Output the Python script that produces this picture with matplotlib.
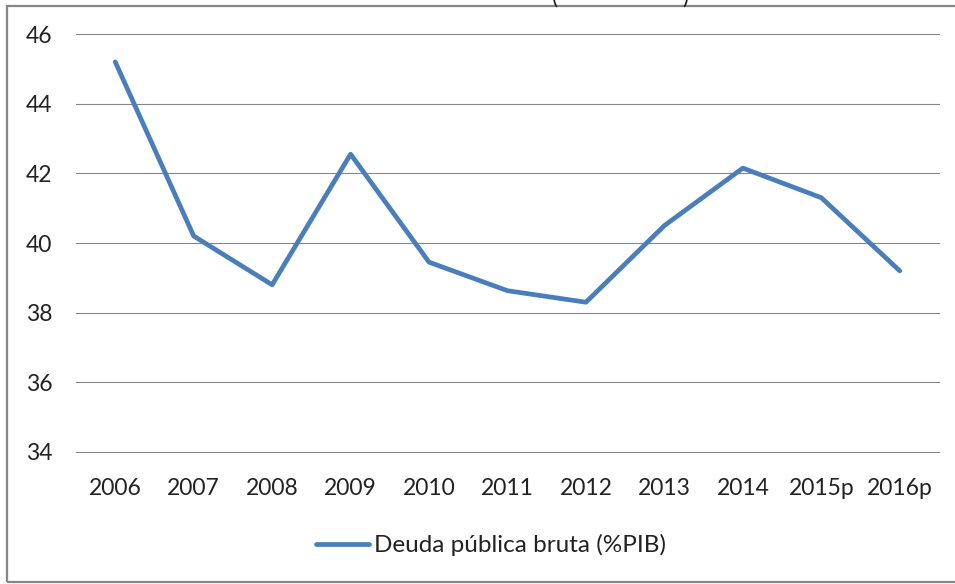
import matplotlib
matplotlib.use("Agg")
import matplotlib.pyplot as plt
from matplotlib.patches import Rectangle

categories = ["2006", "2007", "2008", "2009", "2010", "2011", "2012", "2013", "2014", "2015p", "2016p"]
deuda = [45.2, 40.2, 38.8, 42.55, 39.45, 38.63, 38.3, 40.5, 42.15, 41.3, 39.2]
yticks = [34, 36, 38, 40, 42, 44, 46]
series_label = "Deuda pública bruta (%PIB)"

W, H = 955, 584
fig = plt.figure(figsize=(W / 100, H / 100), dpi=100)
plt.rcParams['font.family'] = ['Lato', 'DejaVu Sans']

# outer chart frame
fig.patches.append(Rectangle((7 / W, 1 - 582 / H), (W + 10 - 7) / W, (582 - 6) / H,
                             transform=fig.transFigure, fill=False,
                             edgecolor="#868686", linewidth=1.6, clip_on=False))

# clipped title remnants (the title sits above the visible area in the reference)
fig.text(555 / W, 1 - 4 / H, "(", fontsize=16.5, color="#222222", va="baseline", ha="center")
fig.text(685 / W, 1 - 4 / H, ")", fontsize=16.5, color="#222222", va="baseline", ha="center")

left, right = 76 / W, 939 / W
bottom, top = 1 - 452 / H, 1 - 34 / H
ax = fig.add_axes([left, bottom, right - left, top - bottom])

x = list(range(len(categories)))
ax.plot(x, deuda, color="#4a7ebb", linewidth=3.4, solid_capstyle="round",
        solid_joinstyle="round", label=series_label, zorder=3)

ax.set_xlim(-0.5, len(categories) - 0.5)
ax.set_ylim(34, 46)
ax.set_yticks(yticks)
ax.set_xticks(x)
ax.set_xticklabels(categories)
ax.grid(axis="y", color="#868686", linewidth=0.8)
for gl in ax.get_ygridlines():
    gl.set_clip_on(False)
ax.set_axisbelow(True)
for s in ax.spines.values():
    s.set_visible(False)
ax.tick_params(axis="y", length=0, pad=17, labelsize=16.5, labelcolor="#222222")
ax.tick_params(axis="x", length=0, pad=19, labelsize=16.5, labelcolor="#222222")

leg = fig.legend(loc="center", bbox_to_anchor=(491 / W, 1 - 545 / H), frameon=False,
                 fontsize=17.5, handlelength=2.2, handletextpad=0.2,
                 borderpad=0, borderaxespad=0)
for t in leg.get_texts():
    t.set_color("#222222")

fig.savefig("out.png", dpi=100)
